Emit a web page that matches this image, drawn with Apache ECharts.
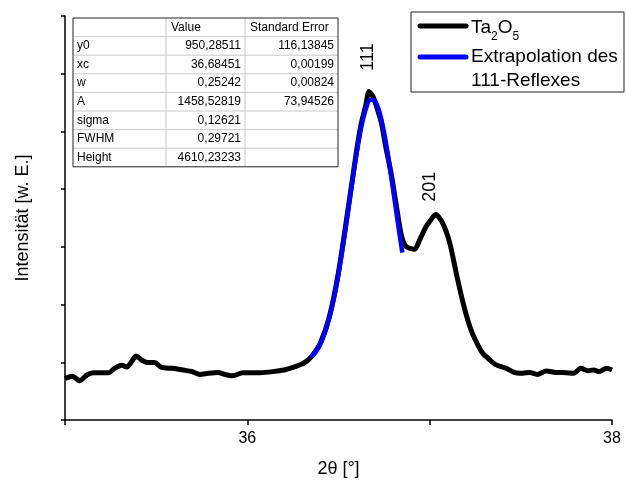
<!DOCTYPE html>
<html>
<head>
<meta charset="utf-8">
<script src="https://cdn.jsdelivr.net/npm/echarts@6/dist/echarts.min.js"></script>
<style>
html,body{margin:0;padding:0;background:#fff;}
#c{width:626px;height:484px;}
</style>
</head>
<body>
<div id="c"></div>
<script>
// ---- data ----
const xData = [35.00,35.04,35.08,35.12,35.155,35.24,35.27,35.31,35.34,35.365,35.39,35.42,35.455,35.49,35.53,35.59,35.65,35.695,35.74,35.785,35.84,35.875,35.92,35.975,36.01,36.07,36.14,36.20,36.25,36.30,36.333,36.36,36.40,36.45,36.50,36.55,36.60,36.625,36.65,36.667,36.69,36.71,36.735,36.76,36.79,36.817,36.845,36.872,36.918,36.945,36.98,37.00,37.033,37.07,37.11,37.146,37.18,37.22,37.25,37.29,37.33,37.365,37.42,37.466,37.51,37.548,37.59,37.64,37.69,37.75,37.79,37.83,37.867,37.90,37.93,37.97,38.00];
const yData = [720,760,680,780,820,820,890,950,920,1010,1110,1040,995,995,910,895,865,840,790,810,825,790,765,820,820,820,838,866,913,970,1040,1130,1330,1790,2560,3600,4680,5140,5460,5690,5600,5420,5150,4720,4250,3720,3200,3000,2960,3120,3350,3440,3560,3420,3070,2540,2070,1620,1390,1160,1040,955,895,820,810,825,790,850,825,820,810,895,855,865,840,895,866];
const xFit = [36.35,36.375,36.40,36.425,36.45,36.475,36.50,36.525,36.55,36.575,36.60,36.625,36.65,36.675,36.70,36.725,36.75,36.775,36.80,36.825,36.85];
const yFit = [1088,1178,1313,1507,1771,2112,2534,3025,3562,4114,4635,5075,5391,5547,5525,5329,4979,4515,3983,3431,2901];
const xTickLabels = [36, 38];
const peakNames = ['111', '201'];
const peakPos = [[36.66, 6290], [37.0, 4040]];
const tableHeader = ['', 'Value', 'Standard Error'];
const tableParams = ['y0', 'xc', 'w', 'A', 'sigma', 'FWHM', 'Height'];
const tableValues = ['950,28511', '36,68451', '0,25242', '1458,52819', '0,12621', '0,29721', '4610,23233'];
const tableErrors = ['116,13845', '0,00199', '0,00824', '73,94526', '', '', ''];
const seriesNames = ['Ta2O5', 'Extrapolation des\n111-Reflexes'];

const FONT = '"Liberation Sans", Arial, sans-serif';
const chart = echarts.init(document.getElementById('c'));

const mctx = document.createElement('canvas').getContext('2d');
function tw(txt, size) { mctx.font = size + 'px ' + FONT; return mctx.measureText(txt).width; }

// table graphic
function buildTable() {
  const y0 = 18, colX = [73, 166, 245, 338], rowH = 18.6;
  const nRows = tableParams.length + 1;
  const els = [];
  const h = rowH * nRows;
  for (let r = 1; r < nRows; r++) {
    els.push({type:'line', shape:{x1:colX[0], y1:y0 + r*rowH, x2:colX[3], y2:y0 + r*rowH}, style:{stroke:'#c8c8c8', lineWidth:1}});
  }
  for (let c = 1; c < 3; c++) {
    els.push({type:'line', shape:{x1:colX[c], y1:y0, x2:colX[c], y2:y0 + h}, style:{stroke:'#c8c8c8', lineWidth:1}});
  }
  els.push({type:'rect', shape:{x:colX[0], y:y0, width:colX[3]-colX[0], height:h}, style:{fill:'none', stroke:'#222', lineWidth:1}});
  const ts = (txt, x, y, align) => ({type:'text', x:x, y:y, style:{text:txt, font:'12px ' + FONT, fill:'#000', align:align, verticalAlign:'middle'}});
  els.push(ts(tableHeader[1], colX[1] + 5, y0 + rowH/2, 'left'));
  els.push(ts(tableHeader[2], colX[2] + 5, y0 + rowH/2, 'left'));
  tableParams.forEach((p, i) => {
    const cy = y0 + (i + 1.5) * rowH;
    els.push(ts(p, colX[0] + 4, cy, 'left'));
    els.push(ts(tableValues[i], colX[2] - 4, cy, 'right'));
    if (tableErrors[i]) els.push(ts(tableErrors[i], colX[3] - 4, cy, 'right'));
  });
  return {type:'group', z:100, children:els};
}

function buildLegend() {
  const big = 19, small = 12;
  const parts = [['Ta', big, 28], ['2', small, 37], ['O', big, 28], ['5', small, 37]];
  let x = 471;
  const formula = [];
  parts.forEach(p => {
    formula.push({type:'text', x:x, y:p[2], style:{text:p[0], font:p[1] + 'px ' + FONT, fill:'#000', verticalAlign:'middle'}});
    x += tw(p[0], p[1]);
  });
  return {type:'group', z:100, children:[
    {type:'rect', shape:{x:411, y:12, width:213, height:80}, style:{fill:'#fff', stroke:'#222', lineWidth:1}},
    {type:'line', shape:{x1:420, y1:26, x2:466, y2:26}, style:{stroke:'#000', lineWidth:5, lineCap:'round'}},
    {type:'line', shape:{x1:420, y1:57, x2:466, y2:57}, style:{stroke:'#0000ff', lineWidth:5, lineCap:'round'}},
    {type:'text', x:471, y:57, style:{text:'Extrapolation des', font:big + 'px ' + FONT, fill:'#000', verticalAlign:'middle'}},
    {type:'text', x:471, y:81, style:{text:'111-Reflexes', font:big + 'px ' + FONT, fill:'#000', verticalAlign:'middle'}}
  ].concat(formula)};
}

chart.setOption({
  animation:false,
  backgroundColor:'#fff',
  grid:{left:65, right:14, top:16, bottom:64},
  xAxis:{type:'value', min:35, max:38, interval:1,
    axisLine:{lineStyle:{color:'#000', width:1.5}},
    axisTick:{inside:false, length:5, lineStyle:{color:'#000', width:1.5}},
    splitLine:{show:false},
    axisLabel:{color:'#000', fontSize:16, fontFamily:FONT, margin:11,
      formatter:v => xTickLabels.indexOf(v) >= 0 ? String(v) : ''},
    name:'2θ [°]', nameLocation:'middle', nameGap:40,
    nameTextStyle:{color:'#000', fontSize:18, fontFamily:FONT}},
  yAxis:{type:'value', min:0, max:7000, interval:1000,
    axisLine:{show:true, lineStyle:{color:'#000', width:1.5}},
    axisTick:{show:true, inside:false, length:4, lineStyle:{color:'#000', width:1.5}},
    axisLabel:{show:false},
    splitLine:{show:false},
    name:'Intensität [w. E.]', nameLocation:'middle', nameGap:33,
    nameTextStyle:{color:'#000', fontSize:18, fontFamily:FONT}},
  series:[
    {name:seriesNames[0], type:'line', showSymbol:false, symbol:'none', smooth:0.25,
     data:xData.map((x, i) => [x, yData[i]]),
     lineStyle:{color:'#000', width:5, join:'round'}, z:2},
    {name:seriesNames[1], type:'line', showSymbol:false, symbol:'none', smooth:0.3,
     data:xFit.map((x, i) => [x, yFit[i]]),
     lineStyle:{color:'#0000ff', width:4.5, cap:'butt'}, z:3}
  ]
});

const annot = peakNames.map((n, i) => {
  const p = chart.convertToPixel({gridIndex:0}, peakPos[i]);
  return {type:'text', x:p[0], y:p[1], rotation:Math.PI/2, z:50,
    style:{text:n, font:'18px ' + FONT, fill:'#000', align:'center', verticalAlign:'middle'}};
});

chart.setOption({graphic:[buildTable(), buildLegend()].concat(annot)});
</script>
</body>
</html>
